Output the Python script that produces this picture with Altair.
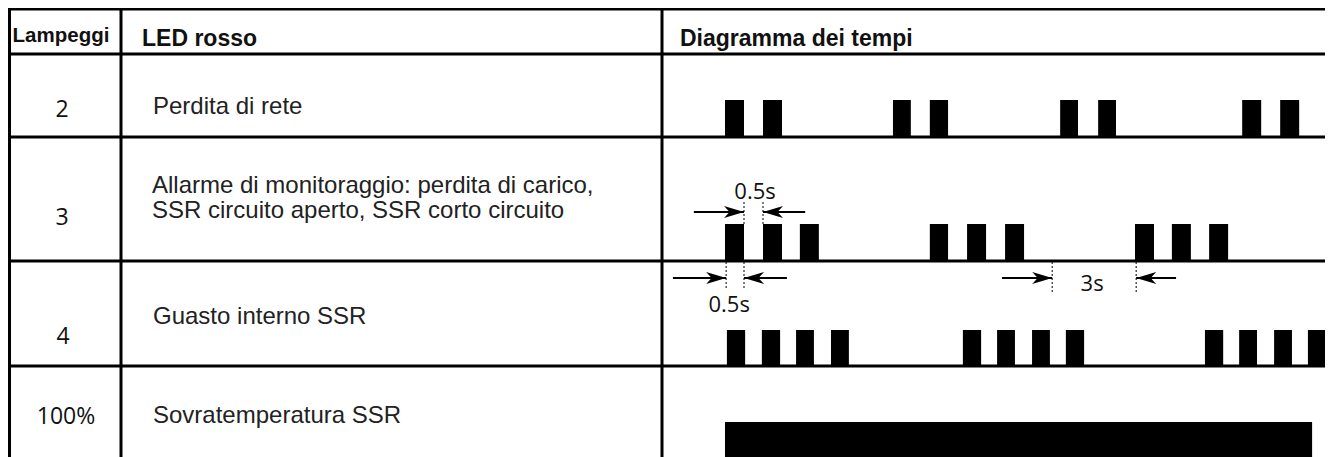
import altair as alt
import pandas as pd

# ---------------- data ----------------
headers = ["Lampeggi", "LED rosso", "Diagramma dei tempi"]
flash_counts = ["2", "3", "4", "100%"]
led_descriptions = [
    "Perdita di rete",
    "Allarme di monitoraggio: perdita di carico,",
    "SSR circuito aperto, SSR corto circuito",
    "Guasto interno SSR",
    "Sovratemperatura SSR",
]

# LED "on" intervals, seconds (start / end) for each row of the timing diagram
row1_start = [0.0, 1.0, 4.42, 5.39, 8.82, 9.82, 13.61, 14.61]
row1_end = [0.5, 1.5, 4.89, 5.87, 9.29, 10.29, 14.11, 15.11]
row2_start = [0.0, 1.0, 1.97, 5.39, 6.37, 7.37, 10.79, 11.76, 12.74]
row2_end = [0.5, 1.5, 2.47, 5.87, 6.87, 7.87, 11.29, 12.26, 13.24]
row3_start = [0.05, 0.97, 1.87, 2.79, 6.26, 7.16, 8.08, 8.97, 12.63, 13.53, 14.45, 15.34]
row3_end = [0.53, 1.45, 2.34, 3.26, 6.74, 7.63, 8.55, 9.45, 13.11, 14.00, 14.92, 15.82]
row4_start = [0.0]
row4_end = [15.45]

# dimension annotations (seconds)
dim_labels = ["0.5s", "0.5s", "3s"]
dim_label_t = [0.79, 0.11, 9.66]
dim_from = [0.5, 0.03, 8.61]
dim_to = [1.0, 0.5, 10.82]
dim_left_tail = [-0.82, -1.37, 7.29]
dim_right_tail = [2.11, 1.63, 11.87]

# ---------------- layout (page pixels) ----------------
OX, OY = 8, 8
W, H = 1333 - 2 * OX, 457 - OY
T0_PX, PX_PER_S = 725, 38.0


def px(v):
    return v - OX


def py(v):
    return v - OY


tscale = alt.Scale(domain=[(OX - T0_PX) / PX_PER_S, (OX + W - T0_PX) / PX_PER_S],
                   nice=False, zero=False)

row_top = {1: 100, 2: 224, 3: 330, 4: 422}
row_bottom = {1: 137, 2: 261, 3: 366, 4: 460}

# pulses
rows = []
for r, (s, e) in enumerate([(row1_start, row1_end), (row2_start, row2_end),
                            (row3_start, row3_end), (row4_start, row4_end)], start=1):
    for a, b in zip(s, e):
        rows.append({"row": r, "start": a, "end": b,
                     "top": py(row_top[r]), "bottom": py(row_bottom[r])})
pulses = pd.DataFrame(rows)

bars = alt.Chart(pulses).mark_rect(color="black").encode(
    x=alt.X("start:Q", scale=tscale, axis=None),
    x2="end:Q",
    y=alt.Y("top:Q", scale=None, axis=None),
    y2="bottom:Q",
)

# table grid
h_lines_y = [9, 54, 137, 261, 366]
v_lines_x = [9.5, 121, 662]
segs = [{"x": px(8), "x2": px(1340), "y": py(v), "y2": py(v)} for v in h_lines_y]
segs += [{"x": px(v), "x2": px(v), "y": py(8), "y2": py(460)} for v in v_lines_x]
grid = alt.Chart(pd.DataFrame(segs)).mark_rule(color="black", strokeWidth=3).encode(
    x=alt.X("x:Q", scale=None), x2="x2:Q",
    y=alt.Y("y:Q", scale=None), y2="y2:Q",
)

# header texts
hdr_df = pd.DataFrame({
    "text": headers[1:],
    "x": [px(142), px(680)],
    "y": [py(46), py(46)],
})
hdr = alt.Chart(hdr_df).mark_text(
    font="Liberation Sans", fontWeight="bold", fontSize=23, align="left",
    baseline="alphabetic", color="#111"
).encode(x=alt.X("x:Q", scale=None), y=alt.Y("y:Q", scale=None), text="text:N")

hdr0 = alt.Chart(pd.DataFrame({"text": headers[:1], "x": [px(61)], "y": [py(42)]})).mark_text(
    font="Liberation Sans", fontWeight="bold", fontSize=20.5, align="center",
    baseline="alphabetic", color="#111"
).encode(x=alt.X("x:Q", scale=None), y=alt.Y("y:Q", scale=None), text="text:N")

# first column numbers
num_df = pd.DataFrame({
    "text": flash_counts,
    "x": [px(62), px(62), px(63), px(66)],
    "y": [py(117), py(225), py(344), py(424)],
})
nums = alt.Chart(num_df).mark_text(
    font="Open Sans", fontSize=23, align="center", baseline="alphabetic", color="#111"
).encode(x=alt.X("x:Q", scale=None), y=alt.Y("y:Q", scale=None), text="text:N")

# descriptions
desc_df = pd.DataFrame({
    "text": led_descriptions,
    "x": [px(153), px(152), px(152), px(153), px(153)],
    "y": [py(114), py(193), py(218), py(324), py(423)],
})
desc = alt.Chart(desc_df).mark_text(
    font="Liberation Sans", fontSize=24, align="left", baseline="alphabetic", color="#222"
).encode(x=alt.X("x:Q", scale=None), y=alt.Y("y:Q", scale=None), text="text:N")

# dimension annotations
arrow_y = [py(212), py(278), py(278)]
dot_top = [py(202), py(262), py(262)]
dot_bot = [py(224), py(290), py(292)]
label_y = [py(199), py(312), py(291)]

shafts = []
heads_r, heads_l, dots, labels = [], [], [], []
for i in range(len(dim_labels)):
    shafts.append({"a": dim_left_tail[i], "b": dim_from[i], "y": arrow_y[i]})
    shafts.append({"a": dim_to[i], "b": dim_right_tail[i], "y": arrow_y[i]})
    heads_r.append({"t": dim_from[i], "y": arrow_y[i]})
    heads_l.append({"t": dim_to[i], "y": arrow_y[i]})
    dots.append({"t": dim_from[i], "y": dot_top[i], "y2": dot_bot[i]})
    dots.append({"t": dim_to[i], "y": dot_top[i], "y2": dot_bot[i]})
    labels.append({"t": dim_label_t[i], "y": label_y[i], "text": dim_labels[i]})

shaft = alt.Chart(pd.DataFrame(shafts)).mark_rule(color="black", strokeWidth=1.8).encode(
    x=alt.X("a:Q", scale=tscale), x2="b:Q", y=alt.Y("y:Q", scale=None)
)
head_right = alt.Chart(pd.DataFrame(heads_r)).mark_point(
    shape="M0,0 L-2,-0.6 L-1.45,0 L-2,0.6 Z", size=400, filled=True, color="black",
    opacity=1, strokeWidth=0
).encode(x=alt.X("t:Q", scale=tscale), y=alt.Y("y:Q", scale=None))
head_left = alt.Chart(pd.DataFrame(heads_l)).mark_point(
    shape="M0,0 L2,-0.6 L1.45,0 L2,0.6 Z", size=400, filled=True, color="black",
    opacity=1, strokeWidth=0
).encode(x=alt.X("t:Q", scale=tscale), y=alt.Y("y:Q", scale=None))
dotted = alt.Chart(pd.DataFrame(dots)).mark_rule(
    color="black", strokeWidth=1, strokeDash=[2, 2]
).encode(x=alt.X("t:Q", scale=tscale), y=alt.Y("y:Q", scale=None), y2="y2:Q")
dim_text = alt.Chart(pd.DataFrame(labels)).mark_text(
    font="Open Sans", fontSize=22, align="center", baseline="alphabetic", color="#111"
).encode(x=alt.X("t:Q", scale=tscale), y=alt.Y("y:Q", scale=None), text="text:N")

chart = alt.layer(
    bars, grid, hdr, hdr0, nums, desc, shaft, dotted, head_right, head_left, dim_text
).properties(
    width=W, height=H, padding=0, autosize="none", background="white"
).configure_view(stroke=None)

chart.save("out.html", embed_options={"renderer": "svg", "actions": False})
